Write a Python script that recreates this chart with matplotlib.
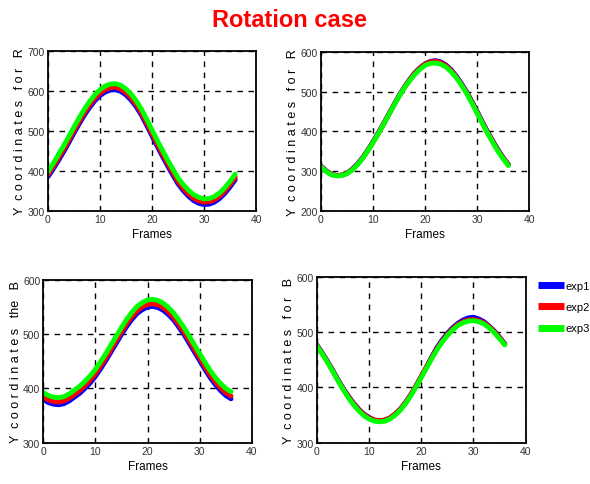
import matplotlib.pyplot as plt
import numpy as np

frames = np.arange(37)

# top left: Y coordinates for R (case 1)
tl_exp1 = [385, 404, 425, 447, 470, 494, 517, 539, 558, 575, 588, 597, 602, 603, 599, 590, 577, 560, 539, 514, 488, 462, 437, 413, 390, 368, 351, 337, 326, 319, 316, 317, 322, 331, 344, 360, 378]
tl_exp2 = [390, 410, 431, 453, 476, 500, 523, 545, 564, 581, 594, 603, 608, 609, 605, 596, 583, 566, 545, 520, 494, 468, 443, 419, 396, 374, 357, 343, 332, 325, 322, 323, 328, 337, 350, 366, 384]
tl_exp3 = [397, 418, 440, 462, 485, 509, 532, 554, 573, 590, 603, 612, 617, 618, 614, 605, 592, 575, 554, 529, 503, 477, 452, 428, 405, 383, 366, 352, 341, 334, 330, 331, 336, 345, 358, 374, 392]

# top right: Y coordinates for R (case 2)
tr_exp1 = [313, 301, 292, 289, 290, 295, 305, 318, 334, 353, 374, 396, 419, 443, 467, 490, 511, 530, 547, 560, 570, 576, 578, 575, 567, 555, 539, 520, 499, 475, 450, 424, 399, 376, 354, 334, 317]
tr_exp2 = [312, 300, 292, 289, 290, 295, 304, 317, 333, 352, 373, 395, 418, 442, 466, 489, 510, 529, 546, 559, 569, 575, 576, 573, 565, 553, 537, 518, 497, 473, 448, 422, 397, 374, 352, 333, 316]
tr_exp3 = [311, 299, 291, 288, 289, 294, 303, 316, 332, 351, 372, 394, 417, 441, 465, 488, 509, 527, 543, 556, 566, 571, 572, 569, 562, 550, 535, 516, 495, 471, 446, 420, 395, 372, 350, 331, 314]

# bottom left: Y coordinates the B
bl_exp1 = [380, 374, 371, 370, 372, 377, 384, 391, 400, 410, 422, 436, 451, 467, 483, 499, 514, 527, 538, 545, 550, 551, 549, 544, 536, 526, 513, 499, 483, 467, 451, 435, 420, 407, 396, 387, 381]
bl_exp2 = [385, 379, 376, 375, 377, 382, 389, 396, 405, 415, 427, 441, 456, 472, 488, 504, 519, 532, 543, 550, 555, 556, 554, 549, 541, 531, 518, 504, 488, 472, 456, 440, 425, 412, 401, 392, 386]
bl_exp3 = [393, 387, 384, 383, 385, 390, 397, 404, 413, 423, 435, 449, 464, 480, 496, 512, 527, 540, 551, 558, 563, 564, 562, 557, 549, 539, 526, 512, 496, 480, 464, 448, 433, 420, 409, 400, 394]

# bottom right: Y coordinates for B
br_exp1 = [477, 463, 448, 432, 415, 399, 385, 372, 361, 352, 346, 341, 340, 341, 345, 352, 361, 373, 387, 403, 420, 437, 455, 472, 486, 498, 508, 516, 522, 526, 527, 524, 519, 511, 502, 491, 479]
br_exp2 = [476, 462, 447, 431, 414, 398, 384, 371, 360, 351, 345, 341, 340, 341, 345, 352, 361, 373, 387, 403, 420, 437, 454, 470, 484, 496, 506, 514, 519, 522, 523, 521, 517, 510, 501, 490, 478]
br_exp3 = [475, 461, 446, 430, 413, 397, 382, 369, 358, 349, 343, 339, 338, 339, 343, 350, 359, 371, 385, 401, 418, 435, 452, 468, 482, 494, 504, 512, 517, 520, 521, 519, 515, 508, 499, 488, 477]

labels = ['exp1', 'exp2', 'exp3']
colors = ['#0000ff', '#ff0000', '#00ff00']

panels = [
    ([0.081, 0.563, 0.353, 0.330], (tl_exp1, tl_exp2, tl_exp3), (300, 700), 'Y  c o o r d i n a t e s   f o r   R'),
    ([0.544, 0.563, 0.353, 0.328], (tr_exp1, tr_exp2, tr_exp3), (200, 600), 'Y  c o o r d i n a t e s   f o r   R'),
    ([0.073, 0.085, 0.354, 0.336], (bl_exp1, bl_exp2, bl_exp3), (300, 600), 'Y  c o o r d i n a t e s   the   B'),
    ([0.537, 0.085, 0.354, 0.342], (br_exp1, br_exp2, br_exp3), (300, 600), 'Y  c o o r d i n a t e s   f o r   B'),
]

fnt = 'Liberation Sans'

fig = plt.figure(figsize=(5.9, 4.85), dpi=100)
fig.text(0.49, 0.958, 'Rotation case', color='red', fontsize=17, fontweight='bold',
         family=fnt, ha='center', va='center')

lines = []
for rect, series, ylim, ylab in panels:
    ax = fig.add_axes(rect)
    lines = []
    for s, c, lab in zip(series, colors, labels):
        ln, = ax.plot(frames, s, color=c, lw=3.5, label=lab, solid_capstyle='round')
        lines.append(ln)
    ax.set_xlim(0, 40)
    ax.set_ylim(*ylim)
    ax.set_xticks([0, 10, 20, 30, 40])
    ax.set_yticks(np.arange(ylim[0], ylim[1] + 1, 100))
    ax.grid(True, color='black', ls=(0, (4, 4)), lw=1)
    for sp in ax.spines.values():
        sp.set_linewidth(1.3)
    ax.tick_params(direction='in', length=3, labelsize=7.5, pad=2, labelcolor='#333333')
    for t in ax.get_xticklabels() + ax.get_yticklabels():
        t.set_family(fnt)
    ax.set_xlabel('Frames', fontsize=8.5, family=fnt, labelpad=3)
    ax.set_ylabel(ylab, fontsize=9, family=fnt, labelpad=1)

fig.legend(lines, labels, loc='upper left', bbox_to_anchor=(0.912, 0.418),
           frameon=False, handlelength=2.3, handletextpad=0.2, labelspacing=1.0,
           borderpad=0.0, borderaxespad=0.0, prop={'family': fnt, 'size': 8})
for ln in fig.legends[0].get_lines():
    ln.set_linewidth(5)
    ln.set_solid_capstyle('butt')

plt.savefig('out.png', dpi=100)
